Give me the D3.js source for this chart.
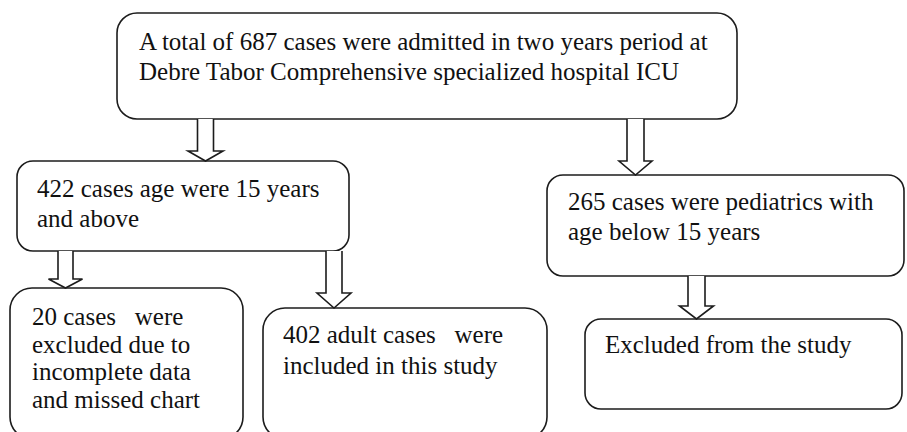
<!DOCTYPE html>
<html>
<head>
<meta charset="utf-8">
<script src="https://cdn.jsdelivr.net/npm/d3@7"></script>
<style>
  html, body { margin: 0; padding: 0; background: #fff; }
  svg { display: block; }
</style>
</head>
<body>
<svg id="chart" width="907" height="432"></svg>
<script>
// ---- content ----
const boxIds = ["total", "adult15", "pediatric", "excluded20", "included402", "excludedPed"];
const boxTexts = [
  ["A total of 687 cases were admitted in two years period at", "Debre Tabor Comprehensive specialized hospital ICU"],
  ["422 cases age were 15 years", "and above"],
  ["265 cases were pediatrics with", "age below 15 years"],
  ["20 cases \u00a0 were", "excluded due to", "incomplete data", "and missed chart"],
  ["402 adult cases \u00a0 were", "included in this study"],
  ["Excluded from the study"]
];
const caseCounts = [687, 422, 265, 20, 402, 265];
const links = [["total", "adult15"], ["total", "pediatric"], ["adult15", "excluded20"], ["adult15", "included402"], ["pediatric", "excludedPed"]];

// ---- layout (pixel geometry of the flow diagram) ----
const boxLayout = {
  total:       { x: 117, y: 13,  w: 620, h: 106, r: 20, tx: 139, ty: 50,  lh: 30 },
  adult15:     { x: 17,  y: 161, w: 332, h: 90,  r: 16, tx: 37,  ty: 197, lh: 30 },
  pediatric:   { x: 547, y: 175, w: 357, h: 101, r: 16, tx: 568, ty: 210, lh: 30 },
  excluded20:  { x: 10,  y: 288, w: 233, h: 151, r: 22, tx: 32,  ty: 325, lh: 27.7 },
  included402: { x: 263, y: 308, w: 284, h: 131, r: 22, tx: 283, ty: 343, lh: 31 },
  excludedPed: { x: 585, y: 319, w: 317, h: 90,  r: 16, tx: 605, ty: 353, lh: 30 }
};
const arrowLayout = [
  { cx: 205.5, y0: 119, headY: 151, tip: 161, sw: 16, hw: 35 },
  { cx: 635.5, y0: 119, headY: 161, tip: 175, sw: 17, hw: 33 },
  { cx: 65.5,  y0: 251, headY: 279, tip: 288, sw: 15, hw: 34 },
  { cx: 334,   y0: 251, headY: 293, tip: 308, sw: 16, hw: 34 },
  { cx: 696.5, y0: 276, headY: 306, tip: 319, sw: 17, hw: 34 }
];

const svg = d3.select("#chart");
const ink = "#1c1c1c";
const fontFamily = "'Liberation Serif', 'Times New Roman', serif";

const boxes = boxIds.map((id, i) => ({ id, lines: boxTexts[i], count: caseCounts[i], ...boxLayout[id] }));

const g = svg.append("g");

g.selectAll("rect.box")
  .data(boxes)
  .join("rect")
  .attr("class", "box")
  .attr("x", d => d.x)
  .attr("y", d => d.y)
  .attr("width", d => d.w)
  .attr("height", d => d.h)
  .attr("rx", d => d.r)
  .attr("ry", d => d.r)
  .attr("fill", "#fff")
  .attr("stroke", ink)
  .attr("stroke-width", 1.6);

// block arrows, open at the top against the source box
const arrows = links.map((l, i) => ({ from: l[0], to: l[1], ...arrowLayout[i] }));
const line = d3.line();
g.selectAll("path.arrow")
  .data(arrows)
  .join("path")
  .attr("class", "arrow")
  .attr("d", a => {
    const s = a.sw / 2, h = a.hw / 2;
    return line([
      [a.cx - s, a.y0],
      [a.cx - s, a.headY],
      [a.cx - h, a.headY],
      [a.cx, a.tip],
      [a.cx + h, a.headY],
      [a.cx + s, a.headY],
      [a.cx + s, a.y0]
    ]);
  })
  .attr("fill", "#fff")
  .attr("stroke", ink)
  .attr("stroke-width", 1.6)
  .attr("stroke-linejoin", "miter");

const txt = g.selectAll("text.label")
  .data(boxes)
  .join("text")
  .attr("class", "label")
  .attr("x", d => d.tx)
  .attr("y", d => d.ty)
  .attr("fill", "#111")
  .style("font-family", fontFamily)
  .style("font-size", "25px");

txt.selectAll("tspan")
  .data(d => d.lines.map((t, i) => ({ t, i, d })))
  .join("tspan")
  .attr("x", o => o.d.tx)
  .attr("y", o => o.d.ty + o.i * o.d.lh)
  .style("white-space", "pre")
  .text(o => o.t);
</script>
</body>
</html>
